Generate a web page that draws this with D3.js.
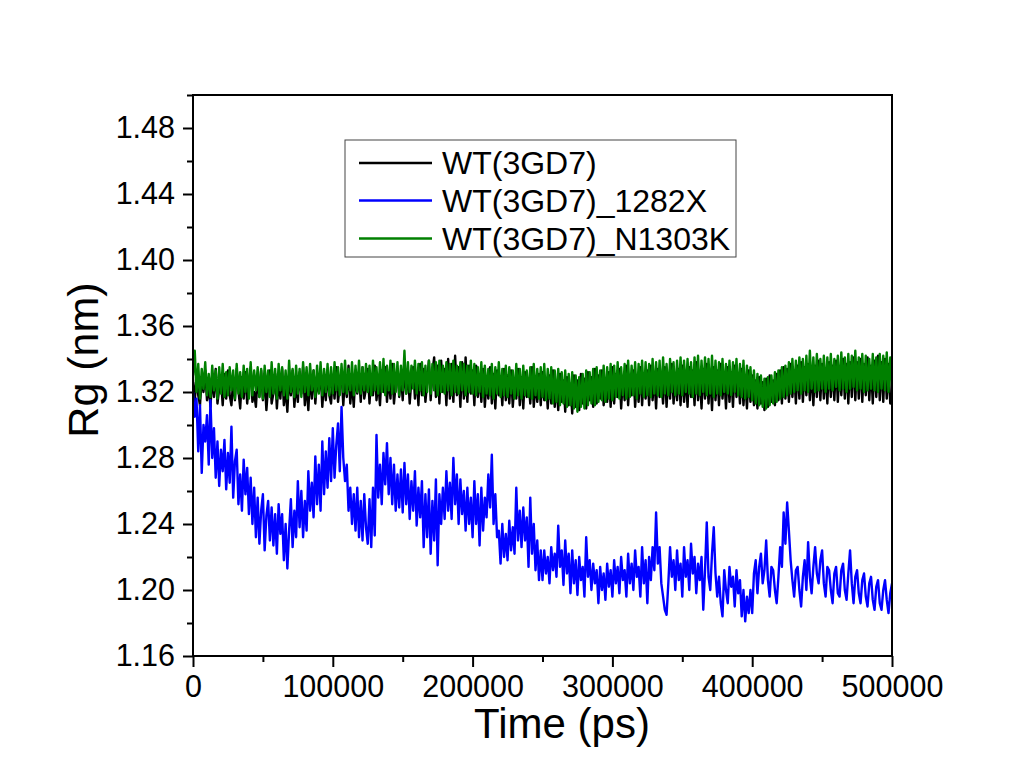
<!DOCTYPE html>
<html>
<head>
<meta charset="UTF-8">
<style>
  * { margin: 0; padding: 0; }
  html, body { width: 1021px; height: 780px; background: #fff; overflow: hidden; }
  svg { display: block; font-family: "Liberation Sans", Arial, sans-serif; }
</style>
</head>
<body>
<div id="chart"></div>
<script src="https://cdn.jsdelivr.net/npm/d3@7"></script>
<script>
// Rg time series, one sample every 1250 ps (0 .. 500000)
var timeStep = 1250;

var wtValues = [
  1.326, 1.314, 1.331, 1.318, 1.312, 1.329, 1.320, 1.333, 1.315, 1.324, 1.311, 1.330, 1.317, 1.334, 1.313, 1.322, 1.328, 1.312, 1.331, 1.316,
  1.333, 1.318, 1.312, 1.327, 1.315, 1.334, 1.321, 1.310, 1.329, 1.316, 1.332, 1.313, 1.325, 1.335, 1.314, 1.320, 1.311, 1.330, 1.317, 1.333,
  1.315, 1.329, 1.309, 1.324, 1.333, 1.313, 1.319, 1.331, 1.310, 1.327, 1.316, 1.334, 1.312, 1.322, 1.308, 1.330, 1.318, 1.333, 1.311, 1.326,
  1.314, 1.332, 1.319, 1.335, 1.312, 1.325, 1.309, 1.331, 1.316, 1.333, 1.313, 1.328, 1.320, 1.334, 1.311, 1.327, 1.315, 1.332, 1.318, 1.313,
  1.330, 1.316, 1.335, 1.314, 1.324, 1.332, 1.312, 1.329, 1.317, 1.336, 1.313, 1.326, 1.311, 1.333, 1.319, 1.331, 1.314, 1.335, 1.316, 1.322,
  1.334, 1.313, 1.330, 1.318, 1.336, 1.315, 1.327, 1.312, 1.333, 1.320, 1.335, 1.314, 1.329, 1.316, 1.337, 1.313, 1.325, 1.334, 1.317, 1.331,
  1.315, 1.336, 1.319, 1.333, 1.313, 1.328, 1.335, 1.316, 1.330, 1.312, 1.337, 1.318, 1.334, 1.314, 1.326, 1.339, 1.315, 1.332, 1.341, 1.317,
  1.336, 1.313, 1.339, 1.320, 1.334, 1.312, 1.340, 1.316, 1.337, 1.314, 1.342, 1.318, 1.335, 1.311, 1.338, 1.316, 1.341, 1.314, 1.336, 1.319,
  1.333, 1.312, 1.336, 1.317, 1.330, 1.314, 1.334, 1.311, 1.328, 1.316, 1.335, 1.313, 1.331, 1.310, 1.333, 1.318, 1.329, 1.312, 1.334, 1.315,
  1.330, 1.313, 1.333, 1.311, 1.327, 1.316, 1.334, 1.312, 1.329, 1.310, 1.332, 1.317, 1.328, 1.313, 1.335, 1.311, 1.326, 1.314, 1.331, 1.312,
  1.332, 1.315, 1.328, 1.310, 1.330, 1.313, 1.333, 1.311, 1.326, 1.309, 1.331, 1.314, 1.327, 1.308, 1.329, 1.312, 1.325, 1.307, 1.330, 1.311,
  1.327, 1.309, 1.331, 1.313, 1.328, 1.310, 1.332, 1.315, 1.329, 1.311, 1.334, 1.313, 1.330, 1.316, 1.333, 1.312, 1.328, 1.314, 1.332, 1.311,
  1.335, 1.313, 1.331, 1.317, 1.334, 1.310, 1.329, 1.315, 1.336, 1.312, 1.330, 1.318, 1.333, 1.311, 1.327, 1.314, 1.335, 1.312, 1.331, 1.316,
  1.333, 1.312, 1.336, 1.315, 1.330, 1.310, 1.334, 1.317, 1.328, 1.313, 1.335, 1.311, 1.331, 1.316, 1.337, 1.313, 1.329, 1.315, 1.334, 1.312,
  1.336, 1.314, 1.331, 1.311, 1.335, 1.317, 1.333, 1.312, 1.338, 1.315, 1.330, 1.310, 1.334, 1.316, 1.337, 1.313, 1.332, 1.309, 1.335, 1.315,
  1.333, 1.312, 1.337, 1.316, 1.331, 1.310, 1.335, 1.314, 1.332, 1.311, 1.336, 1.317, 1.330, 1.313, 1.334, 1.312, 1.329, 1.310, 1.333, 1.314,
  1.330, 1.312, 1.327, 1.310, 1.329, 1.313, 1.326, 1.309, 1.328, 1.311, 1.330, 1.314, 1.327, 1.312, 1.331, 1.315, 1.333, 1.313, 1.335, 1.316,
  1.334, 1.314, 1.337, 1.317, 1.333, 1.313, 1.336, 1.316, 1.338, 1.314, 1.335, 1.318, 1.337, 1.315, 1.334, 1.312, 1.336, 1.317, 1.339, 1.315,
  1.337, 1.316, 1.334, 1.313, 1.338, 1.317, 1.336, 1.315, 1.339, 1.314, 1.335, 1.318, 1.340, 1.316, 1.337, 1.313, 1.338, 1.317, 1.341, 1.315,
  1.338, 1.316, 1.340, 1.314, 1.337, 1.318, 1.341, 1.315, 1.336, 1.313, 1.339, 1.317, 1.342, 1.315, 1.338, 1.314, 1.340, 1.316, 1.337, 1.313,
  1.318
];

var x1282Values = [
  1.320, 1.305, 1.316, 1.284, 1.312, 1.271, 1.300, 1.290, 1.306, 1.276, 1.315, 1.280, 1.298, 1.268, 1.290, 1.263, 1.285, 1.272, 1.291, 1.261,
  1.283, 1.265, 1.299, 1.256, 1.278, 1.285, 1.252, 1.270, 1.248, 1.279, 1.258, 1.274, 1.246, 1.268, 1.240, 1.262, 1.232, 1.256, 1.228, 1.248,
  1.258, 1.224, 1.245, 1.254, 1.230, 1.250, 1.227, 1.246, 1.222, 1.252, 1.234, 1.246, 1.218, 1.240, 1.213, 1.236, 1.255, 1.226, 1.248, 1.232,
  1.266, 1.238, 1.260, 1.232, 1.254, 1.236, 1.272, 1.248, 1.265, 1.244, 1.281, 1.252, 1.276, 1.248, 1.290, 1.258, 1.284, 1.262, 1.292, 1.266,
  1.298, 1.268, 1.288, 1.301, 1.272, 1.311, 1.280, 1.266, 1.276, 1.248, 1.262, 1.240, 1.258, 1.236, 1.262, 1.232, 1.254, 1.230, 1.258, 1.238,
  1.228, 1.255, 1.226, 1.262, 1.233, 1.294, 1.256, 1.276, 1.252, 1.283, 1.264, 1.289, 1.258, 1.280, 1.252, 1.276, 1.248, 1.270, 1.250, 1.273,
  1.247, 1.277, 1.252, 1.270, 1.243, 1.266, 1.248, 1.272, 1.239, 1.262, 1.244, 1.266, 1.226, 1.258, 1.232, 1.261, 1.222, 1.254, 1.230, 1.267,
  1.215, 1.258, 1.240, 1.262, 1.243, 1.272, 1.248, 1.265, 1.243, 1.280, 1.252, 1.270, 1.240, 1.267, 1.246, 1.260, 1.236, 1.262, 1.240, 1.256,
  1.232, 1.266, 1.240, 1.258, 1.227, 1.262, 1.236, 1.256, 1.244, 1.270, 1.250, 1.282, 1.240, 1.258, 1.232, 1.236, 1.216, 1.240, 1.220, 1.234,
  1.218, 1.242, 1.224, 1.238, 1.222, 1.262, 1.230, 1.248, 1.226, 1.250, 1.230, 1.244, 1.214, 1.256, 1.222, 1.240, 1.212, 1.230, 1.206, 1.224,
  1.206, 1.224, 1.210, 1.220, 1.204, 1.226, 1.212, 1.222, 1.208, 1.239, 1.214, 1.224, 1.203, 1.230, 1.210, 1.222, 1.198, 1.224, 1.204, 1.218,
  1.197, 1.220, 1.206, 1.214, 1.196, 1.232, 1.208, 1.218, 1.200, 1.216, 1.204, 1.212, 1.192, 1.214, 1.200, 1.210, 1.194, 1.216, 1.202, 1.212,
  1.196, 1.218, 1.204, 1.214, 1.198, 1.220, 1.206, 1.212, 1.196, 1.222, 1.204, 1.216, 1.200, 1.224, 1.208, 1.214, 1.196, 1.226, 1.204, 1.218,
  1.192, 1.220, 1.206, 1.226, 1.212, 1.247, 1.216, 1.226, 1.204, 1.196, 1.188, 1.185, 1.204, 1.226, 1.208, 1.218, 1.200, 1.224, 1.206, 1.216,
  1.196, 1.226, 1.208, 1.218, 1.200, 1.228, 1.210, 1.220, 1.198, 1.216, 1.206, 1.220, 1.188, 1.212, 1.241, 1.208, 1.200, 1.222, 1.238, 1.210,
  1.196, 1.208, 1.192, 1.184, 1.212, 1.200, 1.192, 1.214, 1.202, 1.208, 1.190, 1.212, 1.198, 1.206, 1.184, 1.200, 1.181, 1.196, 1.186, 1.200,
  1.186, 1.210, 1.218, 1.198, 1.214, 1.222, 1.204, 1.212, 1.230, 1.206, 1.196, 1.214, 1.212, 1.200, 1.192, 1.208, 1.226, 1.214, 1.247, 1.228,
  1.253, 1.236, 1.218, 1.206, 1.196, 1.212, 1.214, 1.200, 1.190, 1.208, 1.218, 1.200, 1.229, 1.208, 1.198, 1.214, 1.226, 1.210, 1.204, 1.218,
  1.224, 1.204, 1.196, 1.214, 1.212, 1.200, 1.192, 1.210, 1.214, 1.198, 1.196, 1.212, 1.216, 1.200, 1.194, 1.210, 1.224, 1.204, 1.192, 1.208,
  1.212, 1.198, 1.192, 1.206, 1.210, 1.196, 1.190, 1.204, 1.208, 1.194, 1.188, 1.202, 1.206, 1.192, 1.188, 1.200, 1.206, 1.194, 1.186, 1.198,
  1.204
];

var n1303kValues = [
  1.330, 1.345, 1.320, 1.337, 1.316, 1.334, 1.322, 1.338, 1.318, 1.331, 1.317, 1.336, 1.321, 1.333, 1.316, 1.335, 1.319, 1.337, 1.317, 1.332,
  1.318, 1.335, 1.321, 1.333, 1.316, 1.337, 1.319, 1.332, 1.317, 1.336, 1.320, 1.334, 1.316, 1.338, 1.318, 1.333, 1.321, 1.335, 1.317, 1.334,
  1.316, 1.336, 1.320, 1.333, 1.317, 1.338, 1.319, 1.334, 1.316, 1.337, 1.321, 1.335, 1.318, 1.333, 1.316, 1.339, 1.320, 1.334, 1.317, 1.336,
  1.319, 1.334, 1.317, 1.338, 1.320, 1.335, 1.318, 1.337, 1.321, 1.333, 1.317, 1.336, 1.319, 1.338, 1.318, 1.334, 1.320, 1.337, 1.318, 1.335,
  1.319, 1.338, 1.321, 1.335, 1.318, 1.337, 1.320, 1.339, 1.319, 1.334, 1.321, 1.338, 1.318, 1.336, 1.320, 1.339, 1.319, 1.335, 1.321, 1.337,
  1.320, 1.336, 1.318, 1.339, 1.321, 1.335, 1.319, 1.338, 1.320, 1.340, 1.318, 1.336, 1.321, 1.339, 1.319, 1.337, 1.320, 1.338, 1.318, 1.336,
  1.321, 1.345, 1.319, 1.338, 1.320, 1.336, 1.322, 1.339, 1.319, 1.337, 1.321, 1.338, 1.318, 1.336, 1.320, 1.339, 1.319, 1.337, 1.321, 1.338,
  1.318, 1.339, 1.320, 1.336, 1.319, 1.338, 1.321, 1.337, 1.318, 1.339, 1.320, 1.336, 1.319, 1.338, 1.321, 1.337, 1.318, 1.336, 1.320, 1.339,
  1.319, 1.337, 1.318, 1.335, 1.320, 1.338, 1.317, 1.336, 1.319, 1.334, 1.318, 1.337, 1.316, 1.335, 1.319, 1.338, 1.317, 1.334, 1.318, 1.336,
  1.317, 1.335, 1.319, 1.333, 1.316, 1.337, 1.318, 1.334, 1.316, 1.336, 1.318, 1.333, 1.317, 1.335, 1.316, 1.337, 1.318, 1.334, 1.316, 1.335,
  1.317, 1.337, 1.315, 1.334, 1.316, 1.335, 1.313, 1.333, 1.314, 1.334, 1.312, 1.332, 1.313, 1.333, 1.311, 1.331, 1.312, 1.332, 1.310, 1.330,
  1.308, 1.329, 1.311, 1.331, 1.310, 1.333, 1.312, 1.332, 1.313, 1.334, 1.312, 1.335, 1.314, 1.333, 1.315, 1.336, 1.314, 1.335, 1.316, 1.337,
  1.315, 1.336, 1.317, 1.338, 1.316, 1.335, 1.318, 1.337, 1.316, 1.339, 1.317, 1.336, 1.318, 1.338, 1.316, 1.337, 1.319, 1.339, 1.317, 1.338,
  1.318, 1.337, 1.317, 1.340, 1.319, 1.338, 1.318, 1.339, 1.317, 1.341, 1.319, 1.337, 1.318, 1.340, 1.320, 1.338, 1.318, 1.339, 1.319, 1.341,
  1.318, 1.339, 1.320, 1.340, 1.319, 1.338, 1.317, 1.341, 1.319, 1.342, 1.318, 1.339, 1.320, 1.341, 1.318, 1.340, 1.319, 1.342, 1.317, 1.339,
  1.319, 1.338, 1.318, 1.340, 1.320, 1.337, 1.319, 1.339, 1.318, 1.338, 1.320, 1.340, 1.318, 1.337, 1.317, 1.339, 1.316, 1.336, 1.317, 1.335,
  1.315, 1.333, 1.313, 1.331, 1.312, 1.330, 1.311, 1.328, 1.310, 1.329, 1.312, 1.330, 1.313, 1.332, 1.314, 1.333, 1.316, 1.335, 1.317, 1.336,
  1.318, 1.338, 1.319, 1.340, 1.320, 1.339, 1.321, 1.341, 1.319, 1.340, 1.321, 1.342, 1.320, 1.345, 1.322, 1.341, 1.320, 1.343, 1.321, 1.340,
  1.322, 1.342, 1.320, 1.341, 1.322, 1.343, 1.321, 1.340, 1.323, 1.342, 1.321, 1.344, 1.322, 1.341, 1.320, 1.343, 1.322, 1.342, 1.323, 1.345,
  1.321, 1.341, 1.322, 1.343, 1.320, 1.342, 1.321, 1.340, 1.322, 1.343, 1.321, 1.341, 1.320, 1.343, 1.322, 1.342, 1.321, 1.344, 1.320, 1.341,
  1.323
];

var seriesNames = ["WT(3GD7)", "WT(3GD7)_1282X", "WT(3GD7)_N1303K"];
var seriesColors = ["#000000", "#0000ff", "#008000"];
var seriesValues = [wtValues, x1282Values, n1303kValues];

var xMajorTicks = [0, 100000, 200000, 300000, 400000, 500000];
var xMinorTicks = [50000, 150000, 250000, 350000, 450000];
var yMajorTicks = [1.16, 1.20, 1.24, 1.28, 1.32, 1.36, 1.40, 1.44, 1.48];
var yMinorTicks = [1.18, 1.22, 1.26, 1.30, 1.34, 1.38, 1.42, 1.46, 1.50];

var W = 1021, H = 780;
var plot = { left: 193, right: 892, top: 95, bottom: 656 };

var svg = d3.select("#chart").append("svg")
  .attr("width", W).attr("height", H);

svg.append("rect").attr("width", W).attr("height", H).attr("fill", "#fff");

var x = d3.scaleLinear().domain([0, 500000]).range([plot.left, plot.right]);
var y = d3.scaleLinear().domain([1.16, 1.50]).range([plot.bottom, plot.top]);

svg.append("clipPath").attr("id", "clip")
  .append("rect")
  .attr("x", plot.left).attr("y", plot.top)
  .attr("width", plot.right - plot.left).attr("height", plot.bottom - plot.top);

// series lines, drawn in legend order so green ends on top
var line = d3.line()
  .x(function(d, i) { return x(i * timeStep); })
  .y(function(d) { return y(d); });

var lines = svg.append("g").attr("clip-path", "url(#clip)");
seriesValues.forEach(function(vals, k) {
  lines.append("path")
    .datum(vals)
    .attr("fill", "none")
    .attr("stroke", seriesColors[k])
    .attr("stroke-width", 2.4)
    .attr("stroke-linejoin", "round")
    .attr("d", line);
});

// frame
svg.append("rect")
  .attr("x", plot.left).attr("y", plot.top)
  .attr("width", plot.right - plot.left).attr("height", plot.bottom - plot.top)
  .attr("fill", "none").attr("stroke", "#000").attr("stroke-width", 2);

// axes
function styleAxis(g) {
  g.select(".domain").remove();
  g.selectAll(".tick line").attr("stroke", "#000").attr("stroke-width", 2);
  g.selectAll(".tick text").attr("fill", "#000").attr("font-size", "30.5px")
    .attr("font-family", "'Liberation Sans', Arial, sans-serif");
}

svg.append("g")
  .attr("transform", "translate(0," + plot.bottom + ")")
  .call(d3.axisBottom(x).tickValues(xMajorTicks).tickSize(11).tickPadding(8).tickFormat(d3.format("d")))
  .call(styleAxis);

svg.append("g")
  .attr("transform", "translate(0," + plot.bottom + ")")
  .call(d3.axisBottom(x).tickValues(xMinorTicks).tickSize(6).tickFormat(""))
  .call(styleAxis);

svg.append("g")
  .attr("transform", "translate(" + plot.left + ",0)")
  .call(d3.axisLeft(y).tickValues(yMajorTicks).tickSize(10).tickPadding(8).tickFormat(d3.format(".2f")))
  .call(styleAxis);

svg.append("g")
  .attr("transform", "translate(" + plot.left + ",0)")
  .call(d3.axisLeft(y).tickValues(yMinorTicks).tickSize(6).tickFormat(""))
  .call(styleAxis);

// axis titles
svg.append("text")
  .attr("x", 562).attr("y", 738)
  .attr("text-anchor", "middle")
  .attr("font-size", "42px")
  .text("Time (ps)");

svg.append("text")
  .attr("transform", "translate(98,360) rotate(-90)")
  .attr("text-anchor", "middle")
  .attr("font-size", "43px")
  .text("Rg (nm)");

// legend
var legend = svg.append("g");
legend.append("rect")
  .attr("x", 345).attr("y", 140)
  .attr("width", 391).attr("height", 117)
  .attr("fill", "#fff").attr("stroke", "#444").attr("stroke-width", 1);

var rowY = [163, 200.5, 238.5];
seriesNames.forEach(function(name, k) {
  legend.append("line")
    .attr("x1", 359).attr("x2", 432)
    .attr("y1", rowY[k]).attr("y2", rowY[k])
    .attr("stroke", seriesColors[k]).attr("stroke-width", 2.4);
  legend.append("text")
    .attr("x", 442).attr("y", rowY[k] + 11)
    .attr("font-size", "32px")
    .text(name);
});
</script>
</body>
</html>
